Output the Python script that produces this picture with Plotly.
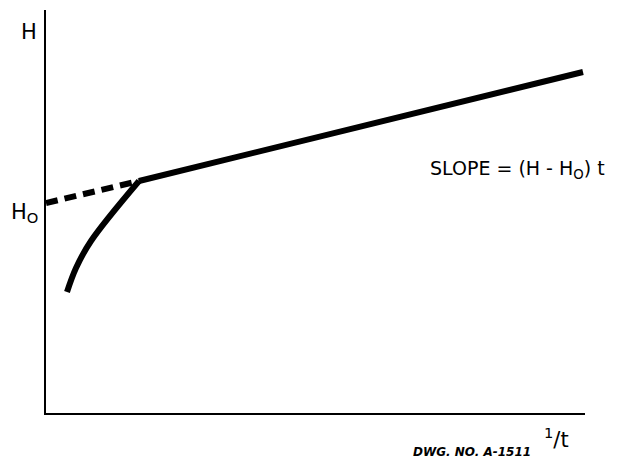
import plotly.graph_objects as go

# Data (arbitrary units; x = 1/t, y = H)
line_x = [93, 537]
line_y = [232, 341]
dash_x = [0, 93]
dash_y = [210, 232]
curve_x = [21, 30, 45, 93]
curve_y = [121, 145, 172, 232]

fig = go.Figure()
fig.add_trace(go.Scatter(x=line_x, y=line_y, mode="lines",
                         line=dict(color="black", width=6)))
fig.add_trace(go.Scatter(x=dash_x, y=dash_y, mode="lines",
                         line=dict(color="black", width=6, dash="12px,7px")))
fig.add_trace(go.Scatter(x=curve_x, y=curve_y, mode="lines",
                         line=dict(color="black", width=6, shape="spline", smoothing=1.0)))

font = "DejaVu Sans"
def ann(x, y, text, size):
    fig.add_annotation(x=x, y=y, xref="paper", yref="paper", text=text, showarrow=False,
                       xanchor="center", yanchor="middle",
                       font=dict(family=font, size=size, color="black"))

ann(-0.031, 0.945, "H", 21)
ann(-0.040, 0.497, "H<sub>O</sub>", 21)
ann(0.874, 0.603, "SLOPE = (H - H<sub>O</sub>) t", 19)
ann(0.948, -0.062, "<sup>1</sup>/t", 21)
ann(0.790, -0.097, "<b><i>DWG. NO. A-1511</i></b>", 12)

fig.update_layout(
    width=618, height=460,
    margin=dict(l=38, r=41, t=2, b=55),
    paper_bgcolor="white", plot_bgcolor="white",
    showlegend=False,
    xaxis=dict(range=[0, 539], showline=True, linecolor="black", linewidth=2,
               showgrid=False, zeroline=False, showticklabels=False, ticks=""),
    yaxis=dict(range=[0, 403], showline=True, linecolor="black", linewidth=2,
               showgrid=False, zeroline=False, showticklabels=False, ticks=""),
)
fig.write_html("out.html")
